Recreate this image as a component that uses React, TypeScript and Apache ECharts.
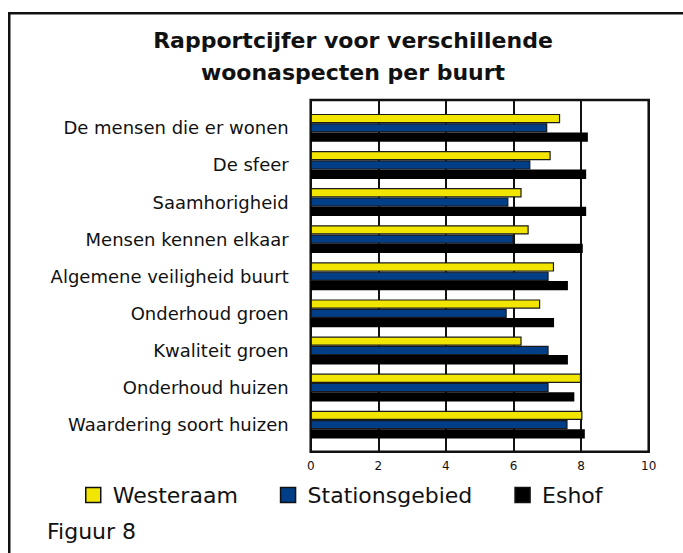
import React, { useEffect, useRef } from "react";
import * as echarts from "echarts";

const categories = [
  "De mensen die er wonen",
  "De sfeer",
  "Saamhorigheid",
  "Mensen kennen elkaar",
  "Algemene veiligheid buurt",
  "Onderhoud groen",
  "Kwaliteit groen",
  "Onderhoud huizen",
  "Waardering soort huizen",
];
const westeraam = [7.38, 7.1, 6.24, 6.45, 7.2, 6.79, 6.24, 8.0, 8.04];
const stationsgebied = [7.0, 6.5, 5.85, 6.0, 7.04, 5.8, 7.04, 7.04, 7.6];
const eshof = [8.2, 8.15, 8.15, 8.05, 7.61, 7.2, 7.61, 7.8, 8.11];
const xTicks = [0, 2, 4, 6, 8, 10];

const FONT = "DejaVu Sans";

export default function App() {
  const ref = useRef<HTMLDivElement>(null);
  useEffect(() => {
    document.body.style.margin = "0";
    const chart = echarts.init(ref.current!, null, { renderer: "svg" });
    const gridLeft = 310.7;
    const gridWidth = 338;
    chart.setOption({
      animation: false,
      backgroundColor: "#fff",
      textStyle: { fontFamily: FONT, color: "#111" },
      title: {
        text: "Rapportcijfer voor verschillende\nwoonaspecten per buurt",
        left: 348,
        top: 19,
        textAlign: "center",
        textStyle: {
          fontFamily: FONT,
          fontSize: 22,
          fontWeight: "bold",
          lineHeight: 32,
          color: "#111",
        },
      },
      legend: {
        left: 80,
        top: 479,
        icon: "rect",
        itemWidth: 15,
        itemHeight: 15,
        itemGap: 42,
        textStyle: { fontFamily: FONT, fontSize: 22, color: "#111", padding: [0, 0, 0, 7] },
        data: [
          { name: "Westeraam", itemStyle: { color: "#f2e600", borderColor: "#111", borderWidth: 1.5 } },
          { name: "Stationsgebied", itemStyle: { color: "#003f88", borderColor: "#111", borderWidth: 1.5 } },
          { name: "Eshof", itemStyle: { color: "#000", borderColor: "#111", borderWidth: 1.5 } },
        ],
      },
      grid: [
        { left: gridLeft, top: 109.3, width: gridWidth, height: 333.9 },
        {
          left: gridLeft,
          top: 100,
          width: gridWidth,
          height: 351.7,
          show: true,
          borderColor: "#111",
          borderWidth: 2.5,
          backgroundColor: "transparent",
        },
      ],
      xAxis: [
        { type: "value", gridIndex: 0, min: 0, max: 10, interval: 2, show: false },
        {
          type: "value",
          gridIndex: 1,
          min: 0,
          max: 10,
          interval: 2,
          axisLine: { show: false },
          axisTick: { show: false },
          axisLabel: {
            fontSize: 12,
            color: "#111",
            margin: 8,
            formatter: (v: number) => (xTicks.includes(v) ? String(v) : ""),
          },
          splitLine: { show: true, lineStyle: { color: "#111", width: 2 } },
        },
      ],
      yAxis: [
        {
          type: "category",
          gridIndex: 0,
          data: categories,
          inverse: true,
          axisLine: { show: false },
          axisTick: { show: false },
          axisLabel: { fontSize: 18, color: "#111", margin: 22, fontFamily: FONT },
        },
        { type: "value", gridIndex: 1, show: false, min: 0, max: 1 },
      ],
      series: [
        {
          name: "Westeraam",
          type: "bar",
          data: westeraam,
          barWidth: 9.3,
          barGap: "0%",
          itemStyle: { color: "#f2e600", borderColor: "#1a1a1a", borderWidth: 1.2 },
        },
        {
          name: "Stationsgebied",
          type: "bar",
          data: stationsgebied,
          barWidth: 9.3,
          barGap: "0%",
          itemStyle: { color: "#003f88", borderColor: "#1a1a1a", borderWidth: 1.2 },
        },
        {
          name: "Eshof",
          type: "bar",
          data: eshof,
          barWidth: 9.3,
          barGap: "0%",
          itemStyle: { color: "#000" },
        },
      ],
      graphic: [
        {
          type: "rect",
          shape: { x: 9.25, y: 13.25, width: 800, height: 800 },
          style: { fill: "none", stroke: "#111", lineWidth: 2.5 },
          silent: true,
        },
        {
          type: "text",
          x: 47,
          y: 531,
          style: {
            text: "Figuur 8",
            fontFamily: FONT,
            fontSize: 22,
            fill: "#111",
            verticalAlign: "middle",
          },
        },
      ],
    });
    return () => chart.dispose();
  }, []);
  return <div ref={ref} style={{ width: 683, height: 553 }} />;
}
